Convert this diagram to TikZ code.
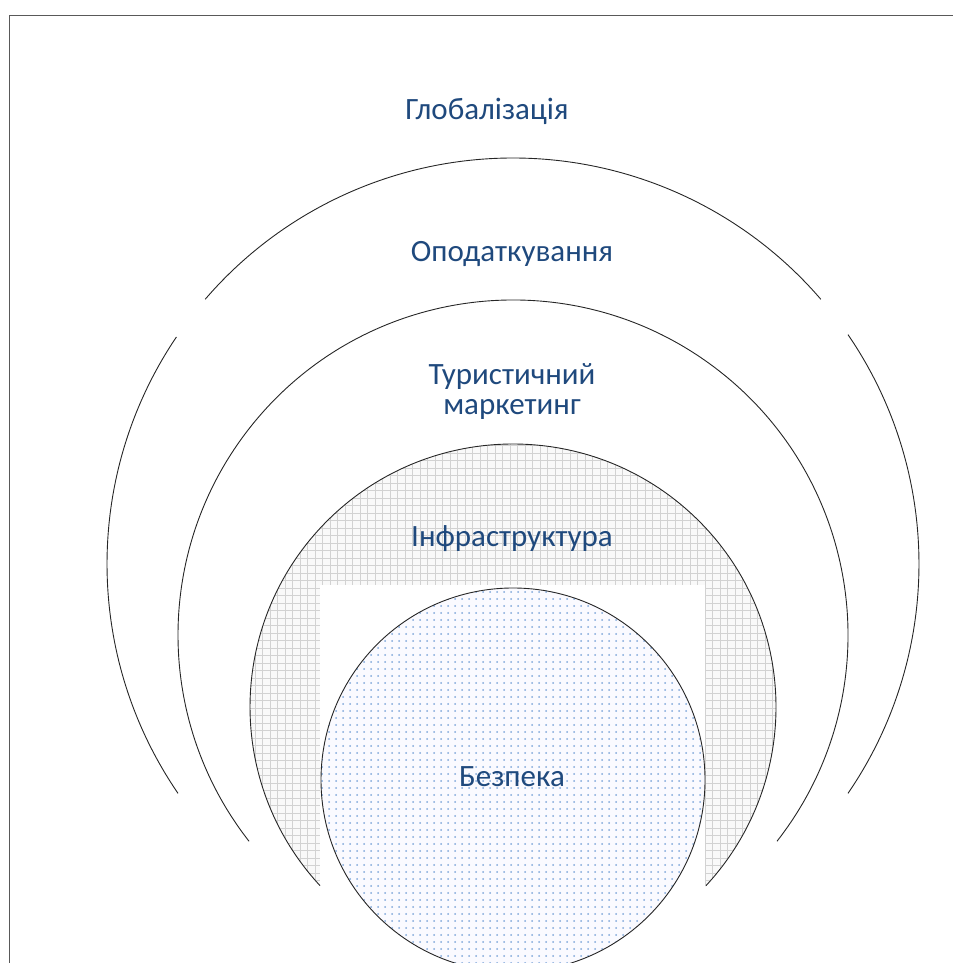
\documentclass[tikz,border=0pt]{standalone}
\usepackage{fontspec}
\setmainfont{Carlito}
\usetikzlibrary{patterns.meta}
\definecolor{labelblue}{HTML}{1F497D}
\definecolor{dotblue}{HTML}{7FA7DA}
\tikzset{
  label/.style={text=labelblue, font=\fontsize{31}{30}\selectfont, anchor=base, align=center},
  ring/.style={black!85, line width=0.9pt}
}
\begin{document}
\begin{tikzpicture}[x=1pt,y=1pt]
			\useasboundingbox (0,0) rectangle (953,963);
			\draw[gray!70!black, line width=1.6pt] (9.5,0) -- (9.5,947.5) -- (953,947.5);

			% infrastructure band with grid
			\begin{scope}
				\clip (513,256) circle (263);
				\fill[gray!5] (513,256) circle (263);
				\draw[step=7.5pt, gray!35, line width=0.7pt] (240,-20) grid (790,530);
			\end{scope}
			\fill[white] (320,0) rectangle (705,378);

			% rings
			\draw[ring] (513,256) ++(-42.8:263) arc[start angle=-42.8, end angle=222.8, radius=263];
			\draw[ring] (513,328) ++(-38:335) arc[start angle=-38, end angle=218, radius=335];
			\draw[ring] (513,399) ++(40.7:406) arc[start angle=40.7, end angle=139.3, radius=406];
			\draw[ring] (513,399) ++(146:406) arc[start angle=146, end angle=214.4, radius=406];
			\draw[ring] (513,399) ++(-34.4:406) arc[start angle=-34.4, end angle=34.4, radius=406];

			% centre circle
			\begin{scope}
				\clip (0,0) rectangle (953,963);
				\fill[blue!2] (513,183) circle (192);
				\fill[pattern={Dots[distance=7pt, radius=1pt]}, pattern color=dotblue] (513,183) circle (192);
				\draw[ring] (513,183) circle (192);
			\end{scope}

			\node[label] (glob) at (487,843) {Глобалізація};
			\node[label] (tax) at (512,701) {Оподаткування};
			\node[label] (mark) at (512,548) {Туристичний\\маркетинг};
			\node[label] (infra) at (512,416) {Інфраструктура};
			\node[label] (safe) at (512,176) {Безпека};
		\end{tikzpicture}
\end{document}
